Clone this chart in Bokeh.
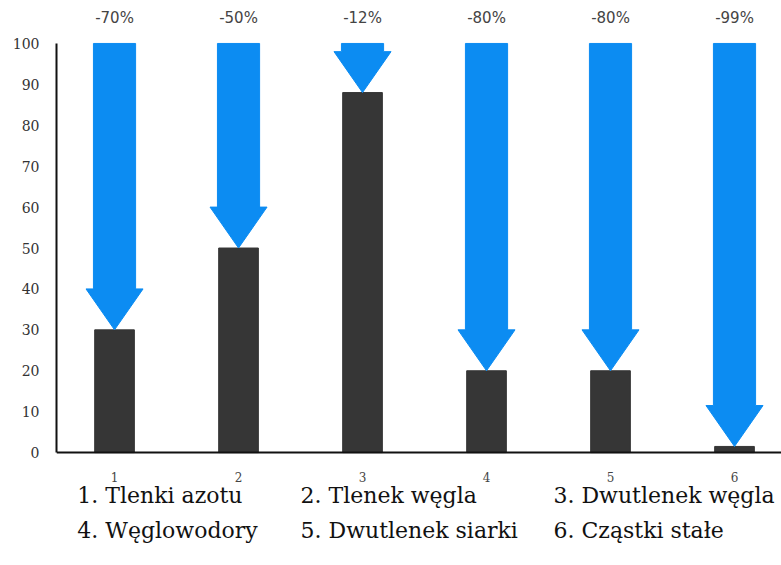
from bokeh.plotting import figure
from bokeh.models import FixedTicker, Range1d, LinearAxis
from bokeh.core.properties import value
from bokeh.embed import file_html
from bokeh.resources import INLINE

# ---- data ----
categories = [1, 2, 3, 4, 5, 6]
levels = [30, 50, 88, 20, 20, 1.5]
reductions = ["-70%", "-50%", "-12%", "-80%", "-80%", "-99%"]
legend_labels = ["1. Tlenki azotu", "2. Tlenek węgla", "3. Dwutlenek węgla",
                 "4. Węglowodory", "5. Dwutlenek siarki", "6. Cząstki stałe"]
legend_col_x = [0.70, 2.50, 4.54]
legend_row_y = [-10.5, -19.1]
y_ticks = [0, 10, 20, 30, 40, 50, 60, 70, 80, 90, 100]

BLUE = "#0c8cf2"
DARK = "#363636"

p = figure(width=781, height=565, output_backend="svg", toolbar_location=None,
           x_range=Range1d(0.532, 6.379), y_range=Range1d(-27.6, 110.5),
           x_axis_location=None,
           min_border_left=56, min_border_right=0, min_border_top=0,
           min_border_bottom=0)
p.outline_line_color = None
p.grid.visible = False
p.background_fill_color = "white"

# bars
p.vbar(x=categories, top=levels, width=0.32, bottom=0, fill_color=DARK,
       line_color=DARK)

# arrows
HEAD_H = 10
sw, hw = 0.17, 0.23
xs, ys = [], []
for c, v in zip(categories, levels):
    base = v + HEAD_H
    xs.append([c - sw, c + sw, c + sw, c + hw, c, c - hw, c - sw])
    ys.append([100, 100, base, base, v, base, base])
p.patches(xs, ys, fill_color=BLUE, line_color=BLUE, line_width=1)

# percent labels
p.text(x=categories, y=[106.2] * 6, text=reductions, text_align="center",
       text_baseline="middle", text_font=value("DejaVu Sans"),
       text_font_size="15px", text_color="#444444")

# legend text below the chart
lx = [legend_col_x[i % 3] for i in range(6)]
ly = [legend_row_y[i // 3] for i in range(6)]
p.text(x=lx, y=ly, text=legend_labels, text_align="left",
       text_baseline="middle", text_font=value("DejaVu Serif"),
       text_font_size="22px", text_color="#111111")

# axes
ya = p.yaxis[0]
ya.ticker = FixedTicker(ticks=y_ticks)
ya.bounds = (0, 100)
ya.axis_line_width = 2
ya.axis_line_color = "#111111"
ya.major_tick_line_color = None
ya.minor_tick_line_color = None
ya.major_label_text_font = "DejaVu Serif"
ya.major_label_text_font_size = "14px"
ya.major_label_text_color = "#333333"
ya.major_label_standoff = 11

xa = LinearAxis(ticker=FixedTicker(ticks=categories), fixed_location=0)
xa.axis_line_width = 2
xa.axis_line_color = "#111111"
xa.major_tick_line_color = None
xa.minor_tick_line_color = None
xa.major_label_text_font = "DejaVu Serif"
xa.major_label_text_font_size = "12px"
xa.major_label_text_color = "#444444"
xa.major_label_standoff = 13
p.add_layout(xa, "below")

open("out.html", "w").write(file_html(p, INLINE))
